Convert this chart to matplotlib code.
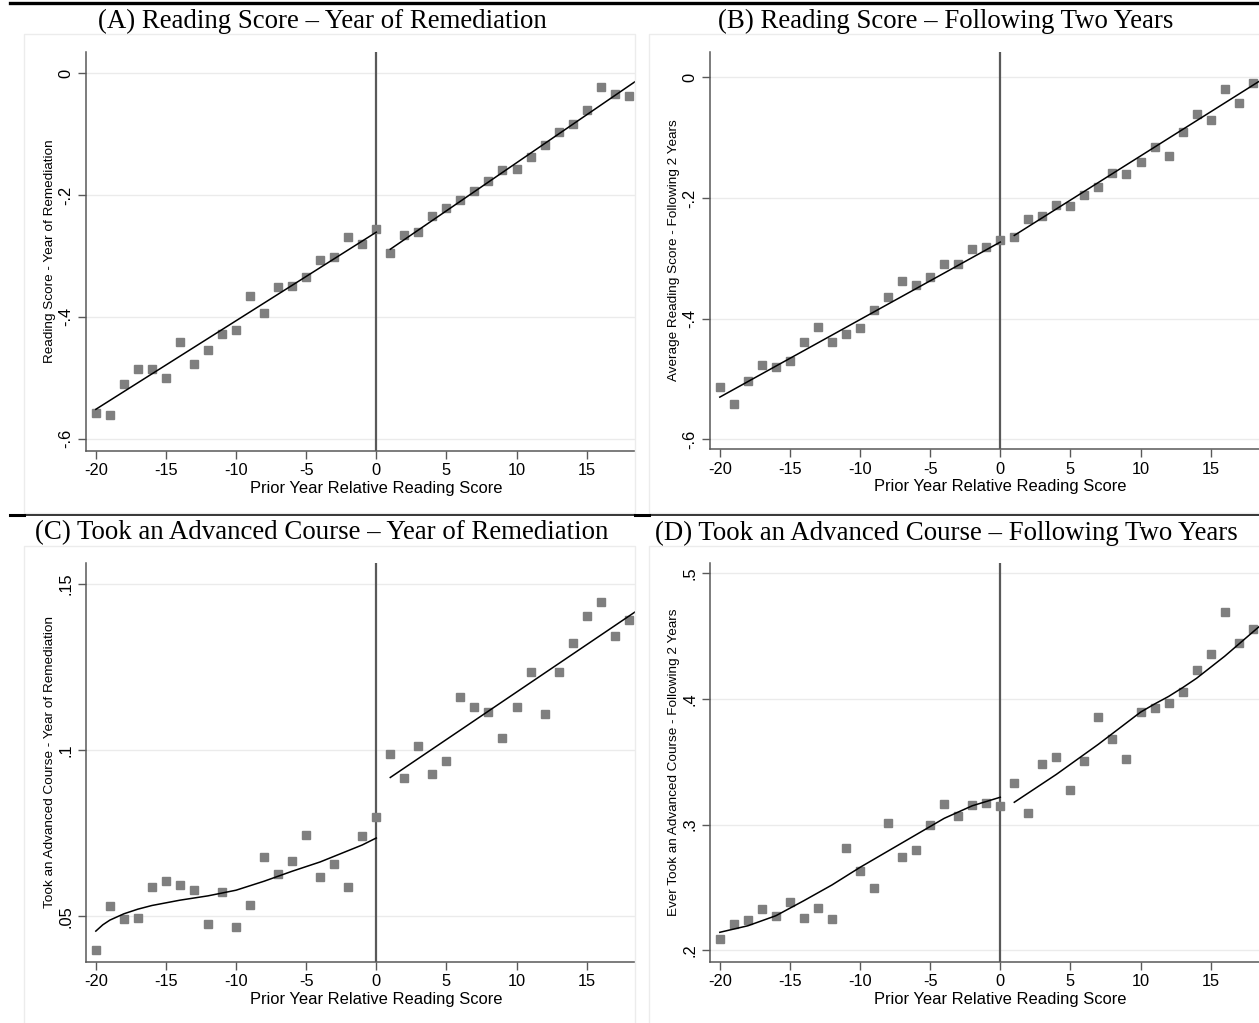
import matplotlib
matplotlib.use("Agg")
import matplotlib.pyplot as plt
from matplotlib.patches import Rectangle
from matplotlib.lines import Line2D

W, H = 1259, 1023

# running variable: prior year relative reading score bins
score_bins = list(range(-20, 19))

# (A) reading score, year of remediation
read_now = [-0.558, -0.562, -0.511, -0.485, -0.486, -0.500, -0.442, -0.478, -0.454, -0.429,
            -0.422, -0.366, -0.393, -0.351, -0.350, -0.334, -0.306, -0.302, -0.269, -0.281,
            -0.256, -0.296, -0.266, -0.260, -0.234, -0.221, -0.208, -0.193, -0.177, -0.159,
            -0.157, -0.138, -0.117, -0.096, -0.084, -0.061, -0.022, -0.034, -0.037]
read_now_fit_lx = [-20, 0]
read_now_fit_ly = [-0.552, -0.261]
read_now_fit_rx = [1, 18.5]
read_now_fit_ry = [-0.289, -0.013]

# (B) average reading score, following two years
read_next = [-0.514, -0.542, -0.504, -0.476, -0.480, -0.470, -0.438, -0.414, -0.438, -0.425,
             -0.415, -0.386, -0.364, -0.338, -0.344, -0.331, -0.310, -0.310, -0.285, -0.282,
             -0.270, -0.264, -0.234, -0.229, -0.212, -0.213, -0.195, -0.181, -0.159, -0.160,
             -0.140, -0.116, -0.131, -0.091, -0.060, -0.070, -0.019, -0.043, -0.010]
read_next_fit_lx = [-20, 0]
read_next_fit_ly = [-0.530, -0.273]
read_next_fit_rx = [1, 18.5]
read_next_fit_ry = [-0.262, -0.006]

# (C) took an advanced course, year of remediation
adv_now = [0.0397, 0.0529, 0.0491, 0.0495, 0.0588, 0.0605, 0.0595, 0.0579, 0.0476, 0.0574,
           0.0466, 0.0533, 0.0678, 0.0628, 0.0666, 0.0743, 0.0618, 0.0657, 0.0589, 0.0740,
           0.0798, 0.0988, 0.0915, 0.1013, 0.0928, 0.0968, 0.1159, 0.1130, 0.1115, 0.1036,
           0.1130, 0.1235, 0.1107, 0.1234, 0.1322, 0.1404, 0.1444, 0.1343, 0.1391]
adv_now_fit_lx = [-20, -19.5, -19, -18, -17, -16, -14, -12, -10, -8, -6, -4, -2, -1, 0]
adv_now_fit_ly = [0.0455, 0.0474, 0.0488, 0.0507, 0.0521, 0.0532, 0.0548, 0.0561, 0.0578,
                  0.0605, 0.0635, 0.0663, 0.0697, 0.0714, 0.0735]
adv_now_fit_rx = [1, 18.5]
adv_now_fit_ry = [0.0917, 0.1416]

# (D) ever took an advanced course, following two years
adv_next = [0.2093, 0.2207, 0.2241, 0.2329, 0.2271, 0.2385, 0.2260, 0.2334, 0.2249, 0.2817,
            0.2634, 0.2499, 0.3013, 0.2743, 0.2801, 0.2995, 0.3167, 0.3072, 0.3154, 0.3175,
            0.3149, 0.3332, 0.3090, 0.3483, 0.3541, 0.3279, 0.3509, 0.3854, 0.3682, 0.3525,
            0.3897, 0.3928, 0.3966, 0.4053, 0.4233, 0.4358, 0.4692, 0.4448, 0.4554]
adv_next_fit_lx = [-20, -18, -16, -14, -12, -10, -8, -6, -4, -2, 0]
adv_next_fit_ly = [0.2143, 0.2195, 0.2275, 0.2395, 0.2520, 0.2660, 0.2790, 0.2920, 0.3050,
                   0.3150, 0.3218]
adv_next_fit_rx = [1, 4, 7, 10, 11, 12, 13, 14, 16, 18.5]
adv_next_fit_ry = [0.3178, 0.3400, 0.3640, 0.3895, 0.3960, 0.4020, 0.4090, 0.4165, 0.4340,
                   0.4580]

x_ticks = [-20, -15, -10, -5, 0, 5, 10, 15]

SANS = "Liberation Sans"
SERIF = "Liberation Serif"
SPINE = "#595959"
MARK = "#7f7f7f"
GRID = "#ebebeb"


def px_axes(fig, l, r, t, b):
    return fig.add_axes([l / W, 1 - b / H, (r - l) / W, (b - t) / H])


def panel(ax, y, flx, fly, frx, fry, ylim, yticks, ylabels, ytitle):
    ax.set_xlim(-20.7, 18.45)
    ax.set_ylim(*ylim)
    for v in yticks:
        ax.axhline(v, color=GRID, lw=1.0, zorder=0)
    ax.axvline(0, color=SPINE, lw=1.6, zorder=1)
    ax.plot(score_bins, y, ls="none", marker="s", ms=6, color=MARK, mec=MARK, zorder=3)
    ax.plot(flx, fly, color="black", lw=1.1, zorder=4)
    ax.plot(frx, fry, color="black", lw=1.1, zorder=4)

    ax.set_xticks(x_ticks)
    ax.set_xticklabels([str(t) for t in x_ticks], fontfamily=SANS, fontsize=11.8)
    ax.set_yticks(yticks)
    ax.set_yticklabels(ylabels, fontfamily=SANS, fontsize=11.8, rotation=90, va="center")
    ax.tick_params(axis="both", length=6, width=1, color=SPINE, pad=3)
    for s in ["top", "right"]:
        ax.spines[s].set_visible(False)
    for s in ["left", "bottom"]:
        ax.spines[s].set_color(SPINE)
        ax.spines[s].set_linewidth(1.1)
    ax.set_xlabel("Prior Year Relative Reading Score", fontfamily=SANS, fontsize=11.9)
    # centre the x title on the cutoff, as in the full-width panel
    x0 = (0 - ax.get_xlim()[0]) / (ax.get_xlim()[1] - ax.get_xlim()[0])
    ax.xaxis.set_label_coords(x0, -0.075)
    ax.set_ylabel(ytitle, fontfamily=SANS, fontsize=9.7, labelpad=2)
    ax.patch.set_alpha(0)


fig = plt.figure(figsize=(W / 100, H / 100), dpi=100)

# graph region boxes
for (l, t, r, b) in [(24, 34, 635, 513), (649, 34, 1262, 513), (24, 546, 635, 1026), (649, 546, 1262, 1026)]:
    fig.add_artist(Rectangle((l / W, 1 - b / H), (r - l) / W, (b - t) / H,
                             transform=fig.transFigure, fill=False, ec="#ececec", lw=1.0))

# rules across the page
fig.add_artist(Line2D([10 / W, 1], [1 - 2.5 / H] * 2, transform=fig.transFigure, color="black", lw=2.4))
fig.add_artist(Line2D([10 / W, 1], [1 - 514.5 / H] * 2, transform=fig.transFigure, color="black", lw=1.1))
for x0, x1 in [(10, 24), (635, 649)]:
    fig.add_artist(Line2D([x0 / W, x1 / W], [1 - 514.5 / H] * 2, transform=fig.transFigure,
                          color="black", lw=2.2))

ax_a = px_axes(fig, 86, 635, 51.7, 450.7)
panel(ax_a, read_now, read_now_fit_lx, read_now_fit_ly, read_now_fit_rx, read_now_fit_ry,
      (-0.620, 0.0355), [-0.6, -0.4, -0.2, 0], ["-.6", "-.4", "-.2", "0"],
      "Reading Score - Year of Remediation")

ax_b = px_axes(fig, 710, 1259, 51.7, 449)
panel(ax_b, read_next, read_next_fit_lx, read_next_fit_ly, read_next_fit_rx, read_next_fit_ry,
      (-0.616, 0.0425), [-0.6, -0.4, -0.2, 0], ["-.6", "-.4", "-.2", "0"],
      "Average Reading Score - Following 2 Years")

ax_c = px_axes(fig, 86, 635, 563.3, 961.7)
panel(ax_c, adv_now, adv_now_fit_lx, adv_now_fit_ly, adv_now_fit_rx, adv_now_fit_ry,
      (0.0363, 0.1561), [0.05, 0.10, 0.15], [".05", ".1", ".15"],
      "Took an Advanced Course - Year of Remediation")

ax_d = px_axes(fig, 710, 1259, 563.3, 961.7)
panel(ax_d, adv_next, adv_next_fit_lx, adv_next_fit_ly, adv_next_fit_rx, adv_next_fit_ry,
      (0.1909, 0.508), [0.2, 0.3, 0.4, 0.5], [".2", ".3", ".4", ".5"],
      "Ever Took an Advanced Course - Following 2 Years")

titles = [(322, 21, "(A) Reading Score \u2013 Year of Remediation"),
          (946, 21, "(B) Reading Score \u2013 Following Two Years"),
          (322, 533, "(C) Took an Advanced Course \u2013 Year of Remediation"),
          (946, 533, "(D) Took an Advanced Course \u2013 Following Two Years")]
for x, y, s in titles:
    fig.text(x / W, 1 - y / H, s, ha="center", va="center", fontfamily=SERIF, fontsize=19.4)

fig.savefig("out.png", dpi=100)
